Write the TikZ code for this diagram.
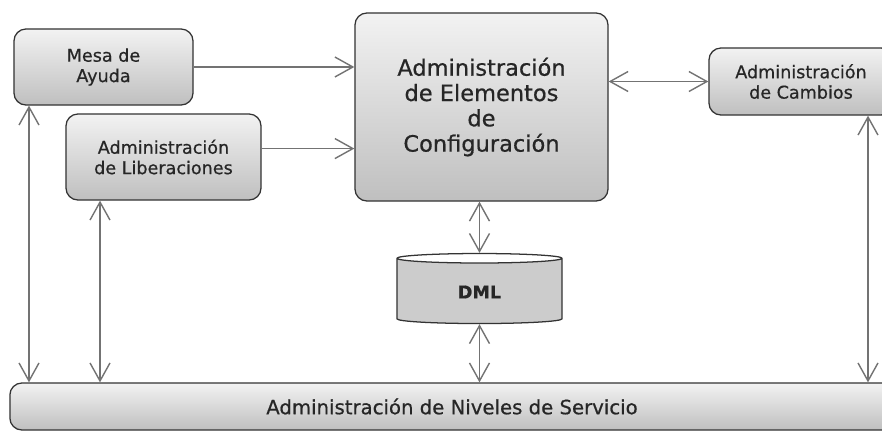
\documentclass[tikz,border=0pt]{standalone}
\usepackage{fontspec}
\setmainfont{DejaVu Sans}[FakeBold=0.6]
\usetikzlibrary{arrows.meta,shapes.geometric}

\begin{document}
\begin{tikzpicture}[x=0.025cm,y=-0.025cm,
        proc/.style={draw=black!80,line width=0.9pt,rounded corners=0.3cm,
            top color=gray!10,bottom color=gray!50,text=black!85,align=center},
        small/.style={font=\fontsize{12.5}{14.5}\selectfont},
        link/.style={draw=black!55,line width=1pt,
            {Straight Barb[length=4.5mm,width=5mm]}-{Straight Barb[length=4.5mm,width=5mm]}},
        tolink/.style={draw=black!55,line width=1pt,-{Straight Barb[length=4.5mm,width=5mm]}}]
        \useasboundingbox (0,0) rectangle (882,435);

        \coordinate (xa) at (29,0);
        \coordinate (xb) at (100,0);
        \coordinate (xc) at (868,0);

        \node[proc,small,minimum width=4.475cm,minimum height=1.9cm] (mesa) at (103.5,67) {Mesa de\\Ayuda};
        \node[proc,small,minimum width=4.875cm,minimum height=2.15cm] (liber) at (163.5,157) {Administración\\de Liberaciones};
        \node[proc,font=\fontsize{16}{18}\selectfont,minimum width=6.325cm,minimum height=4.7cm] (config) at (481.5,107) {Administración\\de Elementos\\de\\Configuración};
        \node[proc,small,minimum width=4.6cm,minimum height=1.675cm] (cambios) at (801,81.5) {Administración\\de Cambios};
        \node[cylinder,shape border rotate=90,aspect=0.18,draw=black!80,line width=0.9pt,
            cylinder uses custom fill,cylinder body fill=gray!40,cylinder end fill=white,
            font=\bfseries\fontsize{12.5}{14.5}\selectfont,text=black!85,
            minimum width=4.125cm,minimum height=1.75cm] (dml) at (479.5,292) {DML};
        \node[proc,font=\fontsize{14}{16}\selectfont,minimum width=22.1cm,minimum height=1.175cm] (niveles) at (452,406.5) {Administración de Niveles de Servicio};

        \draw[tolink] (mesa.east) -- (mesa.east -| config.west);
        \draw[tolink] ([yshift=6pt]liber.east) -- ([yshift=6pt]liber.east -| config.west);
        \draw[link] (config.east |- cambios.west) -- (cambios.west);
        \draw[link] (mesa.south -| xa) -- (niveles.north -| xa);
        \draw[link] (liber.south -| xb) -- (niveles.north -| xb);
        \draw[link] (config.south -| dml.north) -- (dml.north);
        \draw[link] (dml.south) -- (niveles.north -| dml.south);
        \draw[link] (cambios.south -| xc) -- (niveles.north -| xc);
    \end{tikzpicture}
\end{document}
